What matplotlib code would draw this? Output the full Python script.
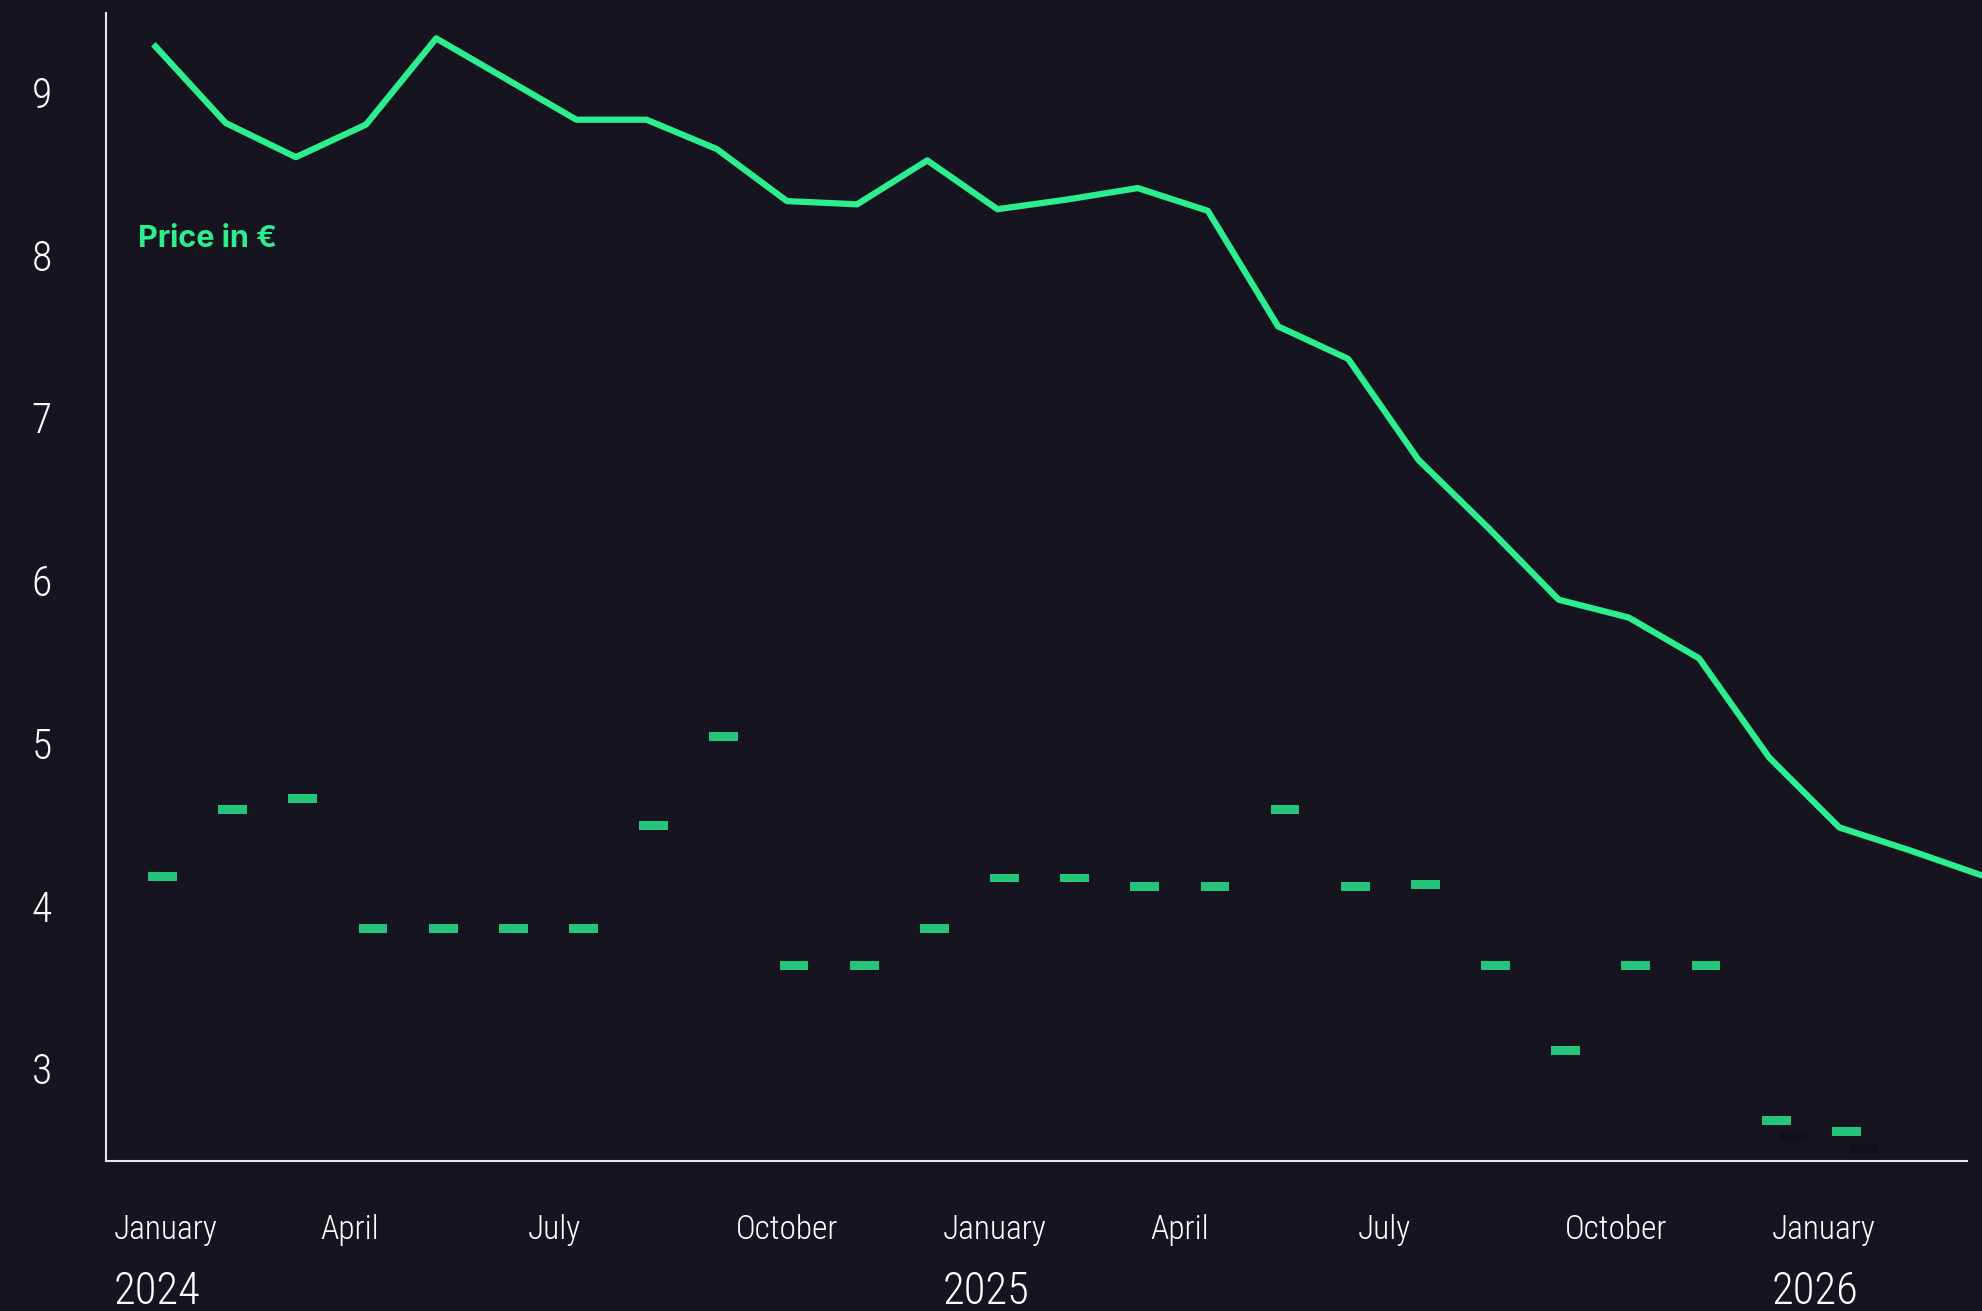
import numpy as np
import matplotlib.pyplot as plt
from matplotlib import transforms

# monthly data, January 2024 .. March 2026
months = ["2024-01", "2024-02", "2024-03", "2024-04", "2024-05", "2024-06",
          "2024-07", "2024-08", "2024-09", "2024-10", "2024-11", "2024-12",
          "2025-01", "2025-02", "2025-03", "2025-04", "2025-05", "2025-06",
          "2025-07", "2025-08", "2025-09", "2025-10", "2025-11", "2025-12",
          "2026-01", "2026-02", "2026-03"]
price = [9.28, 8.81, 8.60, 8.80, 9.33, 9.08, 8.83, 8.83, 8.65, 8.33, 8.31, 8.58,
         8.28, 8.34, 8.41, 8.27, 7.56, 7.36, 6.74, 6.32, 5.88, 5.77, 5.52, 4.91,
         4.48, 4.34, 4.19]
# dash values, January 2024 .. January 2026
dash_vals = [4.18, 4.59, 4.66, 3.86, 3.86, 3.86, 3.86, 4.49, 5.04, 3.63, 3.63, 3.86,
             4.17, 4.17, 4.12, 4.12, 4.59, 4.12, 4.13, 3.63, 3.11, 3.63, 3.63, 2.68,
             2.61]
shadow_idx = [23, 24]

tick_labels = ["January", "April", "July", "October", "January", "April",
               "July", "October", "January"]
year_labels = ["2024", "2025", "2026"]

bg = "#16151f"
line_c = "#2cee8e"
dash_c = "#24c57b"

plt.rcParams["font.family"] = ["Roboto Condensed", "Roboto", "Inter", "DejaVu Sans"]
plt.rcParams["font.weight"] = "light"

fig = plt.figure(figsize=(19.82, 13.11), dpi=100, facecolor=bg)
ax = fig.add_axes([106 / 1982, 150 / 1311, (1967 - 106) / 1982, (1298 - 150) / 1311])
ax.set_facecolor(bg)

x = np.arange(len(months))
xd = np.arange(len(dash_vals))

# shadows behind the last dashes
ax.bar(xd[shadow_idx] + 0.1 + 0.24, 0.055, bottom=np.array(dash_vals)[shadow_idx] - 0.028 - 0.1,
       width=0.41, color="#101017", zorder=2)
ax.bar(xd + 0.1, 0.055, bottom=np.array(dash_vals) - 0.028, width=0.41,
       color=dash_c, zorder=3)

ax.plot(x, price, color=line_c, lw=4.5, zorder=4, clip_on=False)

ax.text(-0.25, 8.1, "Price in €", color=line_c, fontsize=22, fontweight="bold",
        family=["Inter", "DejaVu Sans"], va="center", ha="left")

ax.set_xlim(-0.706, 25.82)
ax.set_ylim(2.43, 9.486)

ax.set_yticks(range(3, 10))
ax.set_yticklabels([str(v) for v in range(3, 10)])
ax.tick_params(axis="y", length=0, pad=39, labelsize=30, labelcolor="white")
ax.set_xticks([])

tr = transforms.blended_transform_factory(ax.transData, fig.transFigure)
label_x = np.arange(len(tick_labels)) * 3 * 0.985 - 0.6
for lx, lab in zip(label_x, tick_labels):
    ax.text(lx, 0.062, lab, transform=tr, color="white", fontsize=24,
            ha="left", va="center", clip_on=False)
for lx, lab in zip(label_x[::4], year_labels):
    ax.text(lx, 0.0145, lab, transform=tr, color="white", fontsize=32,
            ha="left", va="center", clip_on=False)

for s in ["top", "right"]:
    ax.spines[s].set_visible(False)
for s in ["left", "bottom"]:
    ax.spines[s].set_color("#e6e6e6")
    ax.spines[s].set_linewidth(1.5)

fig.savefig("out.png", dpi=100, facecolor=bg)
